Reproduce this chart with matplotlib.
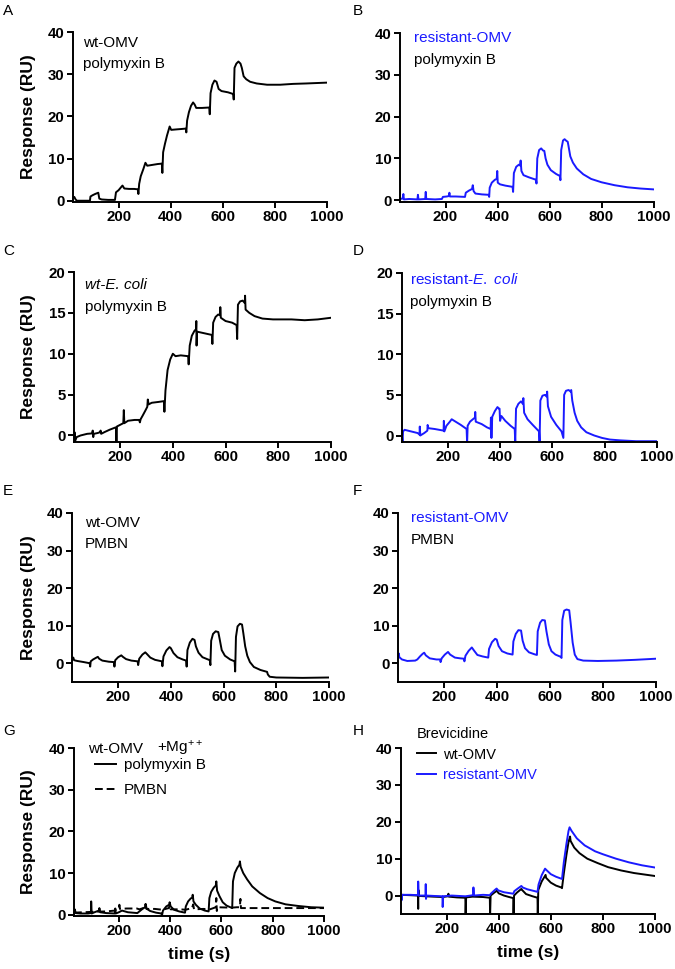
import matplotlib
matplotlib.use('Agg')
import matplotlib.pyplot as plt

plt.rcParams['font.family'] = ['Liberation Sans', 'DejaVu Sans']
plt.rcParams['mathtext.fontset'] = 'custom'
plt.rcParams['mathtext.rm'] = 'Liberation Sans'
plt.rcParams['mathtext.it'] = 'Liberation Sans:italic'

BLUE = '#1a1aff'
W, H = 675, 969

# sensorgrams: (time s, response RU)
a_wt_pmb = [(25, 0.8), (30, 0.9), (35, 0.3), (40, 0.0), (90, 0.0), (92, 1.0), (100, 1.3), (110, 1.6),
            (122, 1.9), (126, 0.5), (135, 0.3), (160, 0.2), (186, 0.2), (190, 2.0), (200, 2.5), (208, 3.1),
            (215, 3.6), (222, 2.9), (240, 2.8), (260, 2.8), (274, 2.7), (276, 1.6), (279, 4.0), (285, 5.8),
            (295, 7.5), (303, 9.0), (310, 8.3), (330, 8.5), (350, 8.7), (366, 8.8), (368, 6.6), (371, 11.5),
            (378, 13.5), (386, 15.5), (396, 17.6), (402, 16.8), (420, 16.9), (440, 17.0), (458, 17.1),
            (460, 16.2), (463, 19.0), (470, 21.0), (478, 22.5), (486, 23.3), (492, 22.8), (498, 22.0),
            (520, 22.0), (548, 22.1), (550, 20.5), (553, 25.5), (560, 27.5), (568, 28.5), (576, 28.2),
            (584, 26.5), (595, 26.0), (620, 25.7), (640, 25.3), (642, 24.0), (645, 31.5), (652, 32.5),
            (660, 33.0), (668, 32.5), (673, 31.5), (680, 29.5), (690, 28.8), (705, 28.2), (730, 27.8),
            (770, 27.5), (820, 27.5), (870, 27.7), (920, 27.8), (1000, 28.0)]

b_res_pmb = [(25, 0.3), (35, 0.4), (38, 1.5), (40, 0.2), (60, 0.3), (92, 0.2), (94, 1.3), (96, 0.2),
             (122, 0.3), (124, 2.0), (126, 0.3), (160, 0.2), (186, 0.3), (190, 0.8), (205, 0.9), (213, 1.0),
             (215, 1.8), (217, 0.9), (240, 0.9), (275, 0.8), (278, 1.8), (290, 2.3), (302, 2.7), (305, 3.6),
             (308, 2.2), (315, 1.6), (340, 1.4), (366, 1.3), (368, 0.8), (370, 3.0), (378, 4.2), (390, 4.9),
             (397, 5.1), (399, 7.0), (401, 4.2), (410, 3.8), (430, 3.5), (458, 3.2), (460, 2.0), (463, 6.5),
             (472, 8.0), (482, 8.5), (487, 8.3), (489, 9.5), (492, 7.0), (500, 6.0), (520, 5.5), (548, 4.9),
             (550, 4.0), (553, 10.0), (560, 12.0), (568, 12.4), (575, 11.9), (580, 11.8), (585, 10.0),
             (592, 8.5), (605, 7.2), (625, 6.3), (640, 5.8), (642, 4.8), (645, 12.0), (652, 14.3), (658, 14.6),
             (665, 14.2), (670, 14.0), (673, 13.0), (680, 10.5), (690, 9.0), (705, 7.6), (730, 6.2),
             (760, 5.1), (800, 4.3), (850, 3.6), (900, 3.1), (950, 2.8), (1000, 2.6)]

c_wt_ecoli = [(25, -0.7), (27, 0.4), (29, -0.7), (35, -0.2), (50, 0.0), (75, 0.2), (94, 0.25), (96, 0.6),
              (98, -0.2), (100, 0.2), (115, 0.3), (124, 0.4), (126, 0.6), (128, 0.2), (140, 0.4), (160, 0.7),
              (184, 1.0), (186, -0.8), (188, 1.1), (200, 1.3), (212, 1.5), (214, 3.1), (216, 1.5), (230, 1.8),
              (255, 1.9), (272, 1.9), (275, 1.6), (278, 2.0), (285, 2.4), (295, 3.0), (303, 3.5), (305, 4.4),
              (308, 3.8), (320, 4.0), (345, 4.1), (366, 4.2), (368, 2.9), (372, 5.5), (380, 8.0), (390, 9.3),
              (400, 10.0), (410, 9.7), (430, 9.8), (458, 9.7), (460, 8.7), (464, 11.0), (472, 12.2),
              (482, 12.8), (488, 13.0), (489, 14.0), (490, 11.0), (492, 12.7), (520, 12.5), (548, 12.3),
              (550, 11.2), (553, 13.8), (562, 14.5), (572, 14.8), (579, 14.7), (580, 15.7), (582, 14.4),
              (600, 14.0), (625, 13.8), (642, 13.5), (644, 11.8), (647, 16.0), (655, 16.4), (665, 16.5),
              (673, 16.2), (674, 17.1), (676, 15.4), (690, 15.0), (710, 14.6), (740, 14.3), (780, 14.2),
              (850, 14.2), (900, 14.1), (950, 14.2), (1000, 14.4)]

d_res_ecoli = [(25, -0.1), (27, -0.9), (29, 0.5), (35, 0.7), (60, 0.5), (85, 0.3), (92, 0.1), (93, 1.1),
               (95, 0.0), (110, 0.3), (122, 0.6), (123, 1.3), (126, 0.9), (150, 0.8), (184, 0.6), (185, 1.8),
               (187, 0.5), (195, 1.2), (208, 1.7), (215, 2.0), (230, 1.7), (250, 1.3), (272, 0.8), (274, -0.9),
               (276, 1.2), (285, 1.7), (296, 2.0), (304, 2.2), (305, 2.9), (307, 1.7), (330, 1.4), (350, 1.0),
               (364, 0.8), (365, 2.2), (367, -0.3), (370, 2.3), (380, 3.0), (390, 3.5), (396, 3.3), (398, 3.3),
               (400, 1.8), (405, 2.4), (420, 1.8), (440, 1.2), (456, 0.8), (458, -0.9), (461, 3.3), (470, 3.9),
               (480, 4.2), (487, 3.9), (489, 4.6), (492, 2.8), (505, 2.0), (525, 1.3), (549, 0.5), (551, -0.9),
               (554, 4.3), (562, 4.9), (572, 5.0), (578, 4.8), (580, 5.4), (583, 3.6), (595, 2.3), (615, 1.3),
               (635, 0.5), (642, -0.3), (645, 5.0), (652, 5.5), (662, 5.6), (670, 5.4), (672, 5.6), (676, 4.3),
               (685, 2.8), (695, 1.8), (710, 1.0), (730, 0.4), (760, 0.0), (790, -0.3), (820, -0.5),
               (860, -0.6), (920, -0.7), (1000, -0.7)]

e_wt_pmbn = [(25, 0.9), (30, 1.5), (33, 0.8), (45, 0.6), (70, 0.3), (92, 0.0), (94, -0.9), (96, 0.5),
             (105, 1.0), (115, 1.4), (123, 1.7), (128, 1.2), (140, 0.7), (165, 0.4), (184, 0.3), (186, -0.9),
             (189, 0.8), (200, 1.6), (212, 2.1), (218, 1.7), (230, 1.1), (250, 0.7), (274, 0.5), (276, -0.5),
             (280, 1.2), (292, 2.3), (303, 2.9), (310, 2.4), (322, 1.5), (340, 0.9), (366, 0.5), (368, -0.8),
             (372, 1.8), (383, 3.4), (395, 4.3), (400, 4.0), (410, 2.7), (425, 1.6), (445, 1.0), (458, 0.7),
             (460, -0.9), (463, 3.5), (472, 5.5), (482, 6.5), (490, 6.2), (495, 4.5), (505, 2.8), (520, 1.6),
             (548, 0.8), (550, -0.5), (553, 6.0), (560, 7.8), (570, 8.5), (580, 8.3), (585, 6.5), (593, 3.5),
             (605, 2.0), (625, 1.0), (642, 0.5), (644, -2.2), (647, 7.0), (653, 9.8), (662, 10.5), (670, 10.3),
             (675, 8.0), (682, 4.5), (690, 2.0), (700, 0.3), (715, -1.0), (740, -1.8), (765, -2.3),
             (768, -3.0), (775, -3.6), (800, -3.8), (900, -3.9), (1000, -3.8)]

f_res_pmbn = [(25, 1.9), (28, 2.6), (30, 1.6), (40, 1.0), (60, 0.6), (90, 0.7), (98, 1.0), (108, 1.8),
              (118, 2.5), (124, 2.8), (130, 2.1), (145, 1.3), (170, 1.0), (184, 1.0), (186, 0.3), (190, 1.3),
              (202, 2.3), (214, 3.0), (222, 2.3), (240, 1.5), (260, 1.3), (274, 1.2), (276, 0.5), (280, 2.0),
              (292, 3.3), (304, 4.2), (312, 3.4), (325, 2.2), (345, 1.8), (366, 1.5), (369, 3.8), (380, 5.6),
              (392, 6.5), (398, 6.3), (405, 4.6), (418, 3.2), (438, 2.6), (458, 2.3), (461, 5.8), (470, 7.8),
              (480, 8.8), (490, 8.7), (496, 6.0), (505, 4.0), (520, 2.9), (540, 2.4), (550, 2.2), (553, 8.5),
              (562, 10.8), (570, 11.5), (580, 11.4), (586, 8.5), (595, 5.0), (605, 3.2), (620, 2.3),
              (640, 1.7), (643, 1.4), (646, 11.5), (653, 14.0), (662, 14.3), (672, 14.1), (677, 11.0),
              (685, 5.5), (693, 2.3), (703, 1.1), (725, 0.7), (780, 0.6), (850, 0.7), (920, 0.9), (1000, 1.2)]

g_mg_pmb = [(25, 0.8), (28, 1.3), (32, 0.4), (50, 0.3), (80, 0.3), (91, 0.4), (92, 3.2), (94, 0.3),
            (105, 0.6), (118, 0.9), (123, 1.0), (124, 1.6), (127, 0.6), (150, 0.4), (184, 0.3), (186, 1.5),
            (188, 0.3), (200, 0.6), (212, 1.0), (218, 0.9), (235, 0.6), (272, 0.4), (280, 0.8), (292, 1.4),
            (302, 1.8), (304, 2.6), (307, 1.5), (322, 0.9), (345, 0.5), (366, 0.3), (368, -0.2), (372, 1.0),
            (385, 2.0), (396, 2.4), (398, 3.0), (402, 2.0), (415, 1.2), (435, 0.8), (458, 0.5), (461, 2.0),
            (470, 3.2), (480, 3.9), (486, 4.1), (488, 4.8), (491, 3.2), (500, 2.4), (515, 1.5), (535, 1.0),
            (550, 0.8), (553, 4.0), (560, 5.5), (570, 6.5), (578, 7.0), (580, 8.0), (583, 5.8), (592, 4.5),
            (605, 3.0), (620, 2.2), (642, 1.6), (645, 8.0), (652, 10.0), (662, 11.3), (670, 12.0),
            (672, 12.8), (675, 11.5), (685, 10.0), (700, 8.5), (720, 6.8), (750, 5.2), (780, 4.0),
            (810, 3.2), (850, 2.5), (900, 2.1), (950, 1.8), (1000, 1.7)]

g_mg_pmbn = [(25, 0.5), (60, 0.6), (100, 0.7), (150, 0.8), (185, 1.0), (190, 1.3), (200, 1.5), (202, 2.4),
             (204, 1.4), (230, 1.5), (270, 1.5), (280, 1.3), (300, 1.7), (305, 2.5), (308, 1.4), (340, 1.4),
             (370, 1.2), (395, 1.6), (398, 2.4), (402, 1.3), (440, 1.3), (460, 1.2), (485, 1.6), (490, 2.5),
             (493, 1.3), (530, 1.4), (555, 1.3), (578, 1.8), (580, 4.0), (582, 0.9), (584, 1.8), (640, 1.7),
             (660, 1.8), (672, 1.8), (674, 3.8), (676, 1.6), (700, 1.6), (800, 1.6), (900, 1.6), (1000, 1.6)]

h_brev_wt = [(25, 0.2), (60, 0.1), (90, 0.0), (91, -3.6), (92, 1.5), (94, -0.1), (120, -0.2), (150, -0.3),
             (185, -0.4), (205, -0.2), (207, 0.5), (209, -0.3), (240, -0.5), (272, -0.6), (273, -5.5),
             (275, -0.5), (300, -0.3), (340, -0.4), (366, -0.6), (367, -5.5), (369, 0.0), (383, 0.8),
             (393, 1.3), (400, 0.6), (420, 0.0), (440, -0.4), (456, -0.7), (457, -5.5), (459, 0.0), (470, 0.8),
             (487, 1.8), (490, 1.5), (505, 0.4), (530, -0.2), (549, -0.6), (550, -5.5), (552, 1.5), (565, 3.8),
             (580, 5.6), (582, 4.8), (600, 3.5), (620, 2.7), (640, 2.2), (643, 2.0), (650, 6.0), (660, 11.0),
             (668, 14.5), (672, 15.5), (674, 16.0), (676, 14.8), (690, 13.0), (710, 11.5), (740, 10.0),
             (780, 8.8), (820, 7.7), (870, 6.8), (920, 6.1), (970, 5.6), (1000, 5.3)]

h_brev_res = [(25, 0.2), (27, -1.3), (29, 0.2), (60, 0.2), (90, 0.1), (91, 3.8), (93, 0.0), (119, 0.0),
              (120, 3.1), (121, -0.9), (123, 0.0), (150, -0.1), (184, -0.2), (185, -3.1), (187, -0.2),
              (220, 0.0), (272, -0.2), (302, 0.1), (303, 2.2), (305, 0.0), (340, 0.2), (366, 0.1), (370, 0.5),
              (385, 1.5), (392, 1.9), (398, 1.4), (420, 0.9), (456, 0.5), (460, 1.2), (475, 2.0), (487, 2.6),
              (492, 2.2), (510, 1.7), (549, 1.0), (553, 3.0), (565, 5.5), (578, 7.3), (582, 7.0), (600, 5.8),
              (620, 5.1), (643, 4.5), (650, 9.0), (660, 14.0), (668, 17.5), (672, 18.5), (680, 17.5),
              (700, 15.5), (730, 13.6), (770, 12.0), (800, 11.2), (850, 10.0), (900, 9.0), (950, 8.2),
              (1000, 7.6)]

# panel frames in pixels: left, right, top, bottom
frames = {
    'A': (73, 327, 32, 202), 'B': (400, 653.5, 33, 201.5),
    'C': (74, 331, 272, 442), 'D': (402, 657, 273, 442),
    'E': (72, 329, 513, 682), 'F': (398, 656, 513, 682),
    'G': (74, 324, 748, 916), 'H': (401, 655, 748, 914),
}
ylims = {'A': (-0.3, 40), 'B': (-0.3, 40), 'C': (-0.8, 20), 'D': (-0.8, 20),
         'E': (-5, 40), 'F': (-5, 40), 'G': (-0.3, 40), 'H': (-5, 40)}
letter_y = {'A': 11, 'B': 11, 'C': 251, 'D': 251, 'E': 491, 'F': 491, 'G': 731, 'H': 731}


def px(x, y):
    return x / W, 1 - y / H


fig = plt.figure(figsize=(W / 100, H / 100), dpi=100)
axes = {}
for k, (l, r, t, b) in frames.items():
    ax = fig.add_axes([l / W, 1 - b / H, (r - l) / W, (b - t) / H])
    ax.set_xlim(25, 1000)
    ax.set_ylim(*ylims[k])
    ax.set_xticks([200, 400, 600, 800, 1000])
    if k in 'CD':
        ax.set_yticks([0, 5, 10, 15, 20])
    else:
        ax.set_yticks([0, 10, 20, 30, 40])
    for s in ['top', 'right']:
        ax.spines[s].set_visible(False)
    for s in ['left', 'bottom']:
        ax.spines[s].set_linewidth(1.4)
    ax.tick_params(direction='out', length=4, width=1.4, labelsize=10.8, pad=2)
    for lab in ax.get_xticklabels() + ax.get_yticklabels():
        lab.set_fontweight('bold')
    if k in 'ACEG':
        ax.set_ylabel('Response (RU)', fontsize=12.5, fontweight='bold')
        ax.yaxis.set_label_coords((36 - l) / (r - l), 0.5)
    if k in 'GH':
        ax.set_xlabel('time (s)', fontsize=12.5, fontweight='bold', labelpad=6)
    axes[k] = ax
    fig.text(*px(3 if k in 'ACEG' else 353, letter_y[k]), k, fontsize=11, va='center', ha='left')


def draw(ax, pts, **kw):
    ax.plot([p[0] for p in pts], [p[1] for p in pts], lw=1.4, **kw)


draw(axes['A'], a_wt_pmb, color='black')
draw(axes['B'], b_res_pmb, color=BLUE)
draw(axes['C'], c_wt_ecoli, color='black')
draw(axes['D'], d_res_ecoli, color=BLUE)
draw(axes['E'], e_wt_pmbn, color='black')
draw(axes['F'], f_res_pmbn, color=BLUE)
draw(axes['G'], g_mg_pmb, color='black', label='polymyxin B')
draw(axes['G'], g_mg_pmbn, color='black', ls=(0, (4, 2)), label='PMBN')
draw(axes['H'], h_brev_wt, color='black', label='wt-OMV')
draw(axes['H'], h_brev_res, color=BLUE, label='resistant-OMV')

fs = 11
fig.text(*px(83, 43), 'wt-OMV', fontsize=fs, va='center')
fig.text(*px(83, 64), 'polymyxin B', fontsize=fs, va='center')
fig.text(*px(414, 38), 'resistant-OMV', fontsize=fs, va='center', color=BLUE)
fig.text(*px(414, 60), 'polymyxin B', fontsize=fs, va='center')
fig.text(*px(85, 285), 'wt-E. coli', fontsize=fs, va='center', style='italic')
fig.text(*px(85, 307), 'polymyxin B', fontsize=fs, va='center')
fig.text(*px(410, 280), r'resistant-$\mathit{E.\ coli}$', fontsize=fs, va='center', color=BLUE)
fig.text(*px(410, 302), 'polymyxin B', fontsize=fs, va='center')
fig.text(*px(85, 523), 'wt-OMV', fontsize=fs, va='center')
fig.text(*px(85, 544), 'PMBN', fontsize=fs, va='center')
fig.text(*px(411, 518), 'resistant-OMV', fontsize=fs, va='center', color=BLUE)
fig.text(*px(411, 540), 'PMBN', fontsize=fs, va='center')
fig.text(*px(88, 753), 'wt-OMV', fontsize=fs, va='baseline')
fig.text(*px(157, 753), r'+Mg$^{++}$', fontsize=fs, va='baseline')

leg = axes['G'].legend(loc='upper left', bbox_to_anchor=px(95, 758), bbox_transform=fig.transFigure,
                       frameon=False, fontsize=fs, handlelength=1.4, handletextpad=0.5,
                       labelspacing=0.75, borderpad=0, borderaxespad=0)
leg2 = axes['H'].legend(loc='upper left', bbox_to_anchor=px(417, 727), bbox_transform=fig.transFigure,
                        frameon=False, fontsize=10.5, handlelength=1.3, handletextpad=0.5,
                        labelspacing=0.45, borderpad=0, borderaxespad=0,
                        title='Brevicidine', title_fontsize=10.5, alignment='left')
for txt in leg2.get_texts():
    if txt.get_text() == 'resistant-OMV':
        txt.set_color(BLUE)

fig.savefig('out.png', dpi=100)
